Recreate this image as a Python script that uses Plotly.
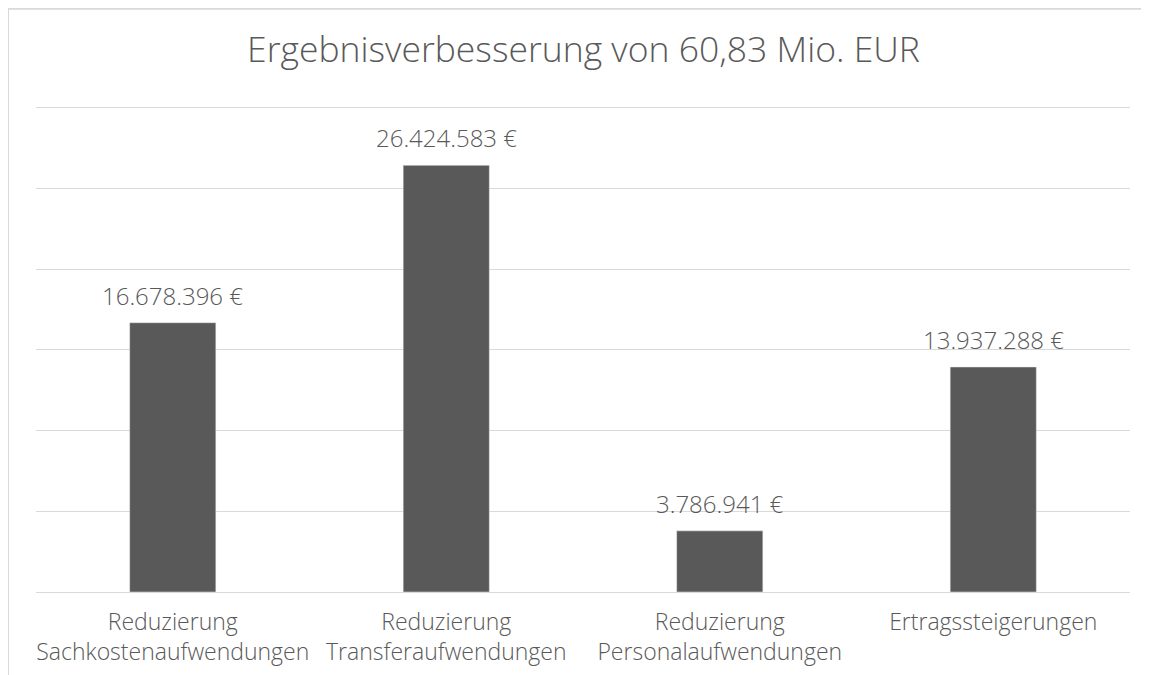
import plotly.graph_objects as go

kategorien = ["Reduzierung<br>Sachkostenaufwendungen", "Reduzierung<br>Transferaufwendungen",
              "Reduzierung<br>Personalaufwendungen", "Ertragssteigerungen"]
werte = [16678396, 26424583, 3786941, 13937288]
beschriftung = [f"{v:,.0f} €".replace(",", ".") for v in werte]

grau = "#595959"
linie = "#d9d9d9"

fig = go.Figure(go.Bar(
    x=kategorien, y=werte, marker_color=grau, width=0.315, hoverinfo="skip"))

# Wertebeschriftungen über den Balken
for k, v, t in zip(kategorien, werte, beschriftung):
    fig.add_annotation(x=k, y=v, text=t, showarrow=False, yanchor="bottom", yshift=9,
                       font=dict(size=24, color=grau, weight=300))

fig.update_layout(
    width=1149, height=675, paper_bgcolor="white", plot_bgcolor="white",
    font=dict(family="Open Sans", color=grau, weight=300),
    margin=dict(l=28, r=27, t=98, b=91),
    title=dict(text="Ergebnisverbesserung von 60,83 Mio. EUR", x=0.5009, xanchor="center",
               y=0.938, yanchor="middle", font=dict(size=35.5, color=grau, weight=300)),
    showlegend=False)
fig.update_yaxes(range=[0, 30100000], dtick=5000000, showticklabels=False,
                 gridcolor=linie, gridwidth=1.3, zeroline=False, showline=False)
fig.update_xaxes(tickfont=dict(size=23, color=grau, weight=300), showline=True, linecolor=linie,
                 linewidth=1.3, ticks="", ticklabelstandoff=9)

# Rahmen des Diagramms (oben und links sichtbar)
fig.add_shape(type="line", xref="paper", yref="paper", x0=-28/1094, x1=1.1, y0=1.2, y1=1.2,
              line=dict(color=linie, width=2))
fig.add_shape(type="line", xref="paper", yref="paper", x0=-28/1094, x1=-28/1094, y0=1.2, y1=-0.2,
              line=dict(color=linie, width=2))

fig.write_html("out.html")
